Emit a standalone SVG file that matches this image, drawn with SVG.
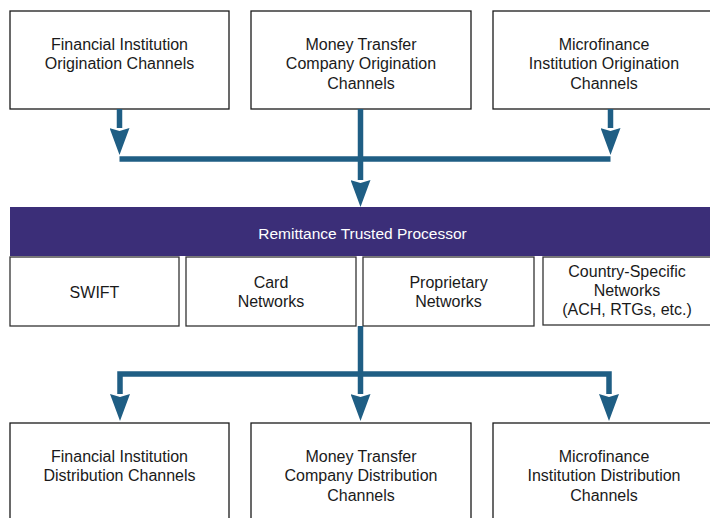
<svg xmlns="http://www.w3.org/2000/svg" width="710" height="518" viewBox="0 0 710 518">
  <style>
    .box { fill: #ffffff; stroke: #1a1a1a; stroke-width: 1.3; }
    .net { fill: #ffffff; stroke: #333333; stroke-width: 1.3; }
    .lbl { font-family: "Liberation Sans", Arial, Helvetica, sans-serif; font-size: 16px; fill: #1a1a1a; text-anchor: middle; }
    .band-lbl { font-family: "Liberation Sans", Arial, Helvetica, sans-serif; font-size: 15.5px; fill: #ffffff; text-anchor: middle; }
    .wire { fill: none; stroke: #1f5e84; stroke-width: 5.5; stroke-linejoin: miter; stroke-linecap: butt; }
  </style>
  <defs>
    <marker id="head" viewBox="0 0 27 20" refX="0" refY="10" markerWidth="27" markerHeight="20" markerUnits="userSpaceOnUse" orient="auto">
      <path d="M0,0 L27,10 L0,20 L3,10 z" fill="#1f5e84"/>
    </marker>
  </defs>

  <rect width="710" height="518" fill="#ffffff"/>

  <!-- origination channels -->
  <g id="fi-origination">
    <rect class="box" x="10" y="11" width="219" height="98"/>
    <text class="lbl" x="119.5" y="49.5">Financial Institution</text>
    <text class="lbl" x="119.5" y="69">Origination Channels</text>
  </g>
  <g id="mtc-origination">
    <rect class="box" x="251" y="11" width="220" height="98"/>
    <text class="lbl" x="361" y="49.5">Money Transfer</text>
    <text class="lbl" x="361" y="69">Company Origination</text>
    <text class="lbl" x="361" y="88.5">Channels</text>
  </g>
  <g id="mfi-origination">
    <rect class="box" x="493" y="11" width="222" height="98"/>
    <text class="lbl" x="604" y="49.5">Microfinance</text>
    <text class="lbl" x="604" y="69">Institution Origination</text>
    <text class="lbl" x="604" y="88.5">Channels</text>
  </g>

  <!-- processor band -->
  <g id="processor">
    <rect x="10" y="207" width="702" height="49" fill="#3b2e78"/>
    <text class="band-lbl" x="362.5" y="239">Remittance Trusted Processor</text>
  </g>

  <!-- networks -->
  <g id="swift">
    <rect class="net" x="10" y="257" width="169" height="69"/>
    <text class="lbl" x="94.5" y="297.5">SWIFT</text>
  </g>
  <g id="card-networks">
    <rect class="net" x="186" y="257" width="170" height="69"/>
    <text class="lbl" x="271" y="288">Card</text>
    <text class="lbl" x="271" y="307">Networks</text>
  </g>
  <g id="proprietary-networks">
    <rect class="net" x="363" y="257" width="171" height="69"/>
    <text class="lbl" x="448.5" y="288">Proprietary</text>
    <text class="lbl" x="448.5" y="307">Networks</text>
  </g>
  <g id="country-networks">
    <rect class="net" x="543" y="257" width="170" height="68"/>
    <text class="lbl" x="627" y="277">Country-Specific</text>
    <text class="lbl" x="627" y="296">Networks</text>
    <text class="lbl" x="627" y="315">(ACH, RTGs, etc.)</text>
  </g>

  <!-- distribution channels -->
  <g id="fi-distribution">
    <rect class="box" x="10" y="423" width="219" height="100"/>
    <text class="lbl" x="119.5" y="461.5">Financial Institution</text>
    <text class="lbl" x="119.5" y="481">Distribution Channels</text>
  </g>
  <g id="mtc-distribution">
    <rect class="box" x="251" y="423" width="220" height="100"/>
    <text class="lbl" x="361" y="461.5">Money Transfer</text>
    <text class="lbl" x="361" y="481">Company Distribution</text>
    <text class="lbl" x="361" y="500.5">Channels</text>
  </g>
  <g id="mfi-distribution">
    <rect class="box" x="493" y="423" width="222" height="100"/>
    <text class="lbl" x="604" y="461.5">Microfinance</text>
    <text class="lbl" x="604" y="481">Institution Distribution</text>
    <text class="lbl" x="604" y="500.5">Channels</text>
  </g>

  <!-- connectors -->
  <g id="connectors">
    <path class="wire" d="M119.5,109 V128" marker-end="url(#head)"/>
    <path class="wire" d="M610.5,109 V128" marker-end="url(#head)"/>
    <path class="wire" d="M119.5,159 H610.5"/>
    <path class="wire" d="M360.5,109 V180" marker-end="url(#head)"/>

    <path class="wire" d="M360.5,326 V394" marker-end="url(#head)"/>
    <path class="wire" d="M360.5,374 H120 V394" marker-end="url(#head)"/>
    <path class="wire" d="M360.5,374 H609 V394" marker-end="url(#head)"/>
  </g>
</svg>
